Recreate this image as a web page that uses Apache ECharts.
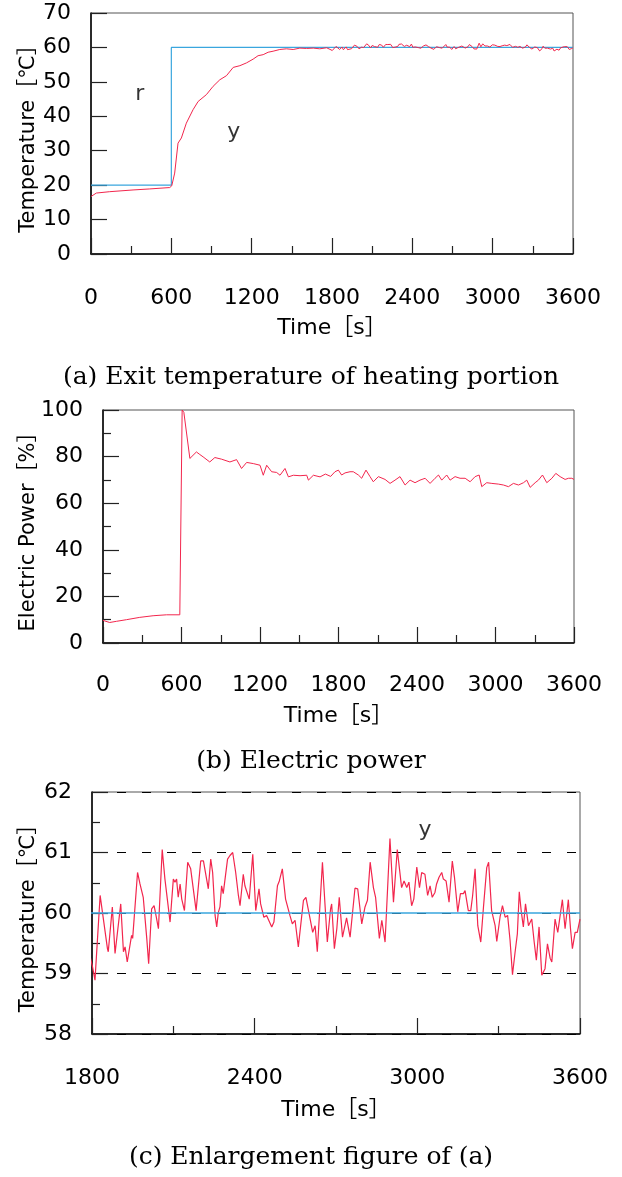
<!DOCTYPE html>
<html>
<head>
<meta charset="utf-8">
<script src="https://cdn.jsdelivr.net/npm/echarts@6/dist/echarts.min.js"></script>
<style>
  html, body { margin: 0; padding: 0; background: #fff; }
  #chart { width: 622px; height: 1177px; }
</style>
</head>
<body>
<div id="chart"></div>
<script>
// Set-point r [°C]
const refTime = [0, 600, 600, 3600];
const refValue = [20, 20, 60, 60];

// Exit temperature y [°C]
const tempTime = [
  0, 40, 140, 314, 439, 588, 603, 625, 650, 675, 712, 762, 800, 862, 912, 962,
  1012, 1062, 1112, 1161, 1211, 1248, 1286, 1323, 1360, 1410, 1460, 1510, 1560,
  1610, 1660, 1709, 1760,
  1802, 1811, 1830, 1836, 1857, 1860, 1875, 1885, 1906, 1916, 1922, 1930, 1946,
  1950, 1968, 1977, 1981, 1989, 1993, 2002, 2009, 2020, 2029, 2036, 2045, 2059,
  2069, 2075, 2088, 2100, 2106, 2112, 2118, 2125, 2131, 2141, 2153, 2164, 2170,
  2184, 2188, 2201, 2211, 2217, 2229, 2238, 2245, 2254, 2260, 2266, 2272, 2278,
  2284, 2291, 2300, 2309, 2319, 2330, 2340, 2346, 2358, 2364, 2370, 2380, 2393,
  2404, 2416, 2422, 2434, 2444, 2463, 2471, 2484, 2491, 2502, 2514, 2521, 2530,
  2539, 2549, 2561, 2565, 2580, 2589, 2602, 2614, 2623, 2631, 2650, 2660, 2668,
  2680, 2684, 2694, 2703, 2712, 2724, 2730, 2739, 2752, 2770, 2780, 2795, 2807,
  2816, 2826, 2838, 2846, 2860, 2869, 2881, 2899, 2912, 2918, 2926, 2931, 2942,
  2951, 2961, 2969, 2979, 2987, 2998, 3008, 3016, 3028, 3038, 3047, 3055, 3065,
  3071, 3080, 3090, 3096, 3106, 3117, 3129, 3137, 3149, 3159, 3170, 3176, 3188,
  3197, 3204, 3213, 3223, 3234, 3244, 3256, 3263, 3274, 3287, 3293, 3305, 3314,
  3324, 3333, 3342, 3351, 3360, 3369, 3376, 3383, 3391, 3399, 3410, 3422, 3431,
  3439, 3449, 3459, 3465, 3471, 3480, 3490, 3496, 3508, 3518, 3535, 3545, 3557,
  3565, 3572, 3582, 3590, 3600
];
const tempValue = [
  16.7, 17.7, 18.1, 18.6, 18.9, 19.3, 19.8, 23.5, 32.2, 33.7, 38.0, 41.9, 44.3,
  46.3, 48.7, 50.6, 51.8, 54.2, 54.7, 55.5, 56.6, 57.6, 57.9, 58.6, 58.9, 59.4,
  59.6, 59.4, 59.8, 59.7, 59.8, 59.6, 59.9,
  59.11, 58.89, 60.29, 60.32, 59.41, 59.36, 60.10, 59.33, 60.15, 59.36, 59.44,
  59.19, 59.63, 59.58, 60.67, 60.48, 60.45, 60.26, 60.26, 59.58, 59.16, 60.07,
  60.12, 59.96, 59.74, 61.05, 60.56, 60.59, 59.85, 60.56, 60.51, 60.56, 60.26,
  60.48, 60.23, 60.04, 60.84, 60.73, 60.70, 60.04, 60.07, 60.86, 60.86, 60.84,
  60.40, 60.89, 60.67, 59.96, 59.77, 60.01, 60.10, 60.45, 60.32, 60.29, 60.89,
  60.95, 61.00, 60.67, 60.29, 60.12, 60.64, 60.45, 60.45, 60.23, 60.97, 60.04,
  60.40, 60.15, 59.93, 59.96, 59.77, 59.85, 60.45, 60.53, 60.73, 60.23, 60.23,
  59.96, 59.82, 59.88, 59.44, 59.41, 60.21, 60.26, 59.96, 59.68, 59.79, 59.36,
  60.84, 60.10, 59.52, 60.07, 60.15, 59.41, 59.74, 60.26, 59.60, 59.60, 59.92,
  59.60, 60.41, 60.40, 59.82, 60.10, 60.21, 60.84, 60.42, 60.26, 59.58, 59.88,
  59.52, 61.23, 60.18, 60.18, 61.05, 61.08, 60.42, 60.53, 60.42, 60.51, 60.12,
  60.23, 60.76, 60.42, 60.67, 60.64, 60.29, 60.45, 60.26, 60.34, 60.48, 60.59,
  60.67, 60.56, 60.53, 60.18, 60.86, 60.59, 60.02, 60.32, 60.32, 60.37, 60.04,
  60.04, 60.29, 60.73, 59.79, 59.52, 60.10, 60.75, 60.84, 60.04, 59.79, 59.53,
  59.93, 60.12, 59.93, 59.96, 59.55, 58.98, 59.33, 59.66, 60.35, 60.04, 59.77,
  60.15, 59.79, 59.90, 59.52, 59.22, 59.77, 58.97, 58.95, 59.08, 59.49, 59.25,
  59.19, 59.90, 59.68, 60.22, 59.74, 60.22, 59.74, 59.41, 59.68, 59.68, 59.90
];

// Electric power [%]
const powerTime = [
  0, 51, 102, 179, 281, 383, 485, 587, 600, 605, 618, 664, 676, 714, 740, 765,
  816, 855, 906, 970, 1021, 1059, 1098, 1149, 1200, 1225, 1251, 1289, 1327, 1353,
  1391, 1417, 1455, 1506, 1557, 1570, 1608, 1659, 1700, 1740,
  1773, 1799, 1824, 1850, 1888, 1913, 1952, 1977, 2010, 2041, 2066, 2105, 2156,
  2194, 2232, 2270, 2309, 2347, 2385, 2423, 2462, 2500, 2538, 2564, 2589, 2627,
  2653, 2691, 2729, 2768, 2806, 2844, 2875, 2895, 2933, 2972, 3022, 3061, 3099,
  3137, 3176, 3214, 3239, 3265, 3303, 3328, 3359, 3392, 3431, 3461, 3494, 3532,
  3558, 3583, 3600
];
const powerValue = [
  9.7, 8.8, 9.3, 10.0, 11.0, 11.7, 12.1, 12.1, 12.1, 100, 99, 79.2, 79.9, 82.0,
  80.9, 79.9, 77.7, 79.6, 78.9, 77.7, 78.7, 74.9, 77.5, 77.0, 76.3, 72.0, 76.3,
  73.5, 73.2, 72.0, 74.9, 71.3, 72.0, 71.8, 72.0, 69.9, 72.0, 71.3, 72.5, 71.5,
  73.5, 74.2, 72.1, 73.0, 73.5, 73.5, 72.1, 70.7, 74.2, 71.4, 69.2, 71.4, 70.2,
  68.5, 69.9, 71.4, 67.8, 69.9, 68.8, 69.9, 70.7, 68.5, 70.7, 72.1, 69.9, 72.1,
  69.9, 71.4, 70.7, 70.7, 69.2, 71.4, 72.1, 67.1, 68.8, 68.5, 68.2, 67.8, 67.1,
  68.5, 67.8, 68.8, 69.9, 66.8, 68.8, 69.9, 72.1, 68.8, 70.7, 72.8, 71.4, 70.2,
  70.7, 70.7, 70.2
];

// Curve labels: [time, value, text]
const labelsA = [[364, 46.5, 'r'], [1066, 35.4, 'y']];
const labelsC = [[3028, 61.37, 'y']];

const captions = [
  '(a) Exit temperature of heating portion',
  '(b) Electric power',
  '(c) Enlargement figure of (a)'
];

const pairs = (xs, ys) => xs.map((x, i) => [x, ys[i]]);

const SANS = '"DejaVu Sans", "Noto Sans CJK JP", sans-serif';
const SERIF = '"DejaVu Serif", serif';
const RED = '#f2264d';
const BLUE = '#3aa6de';
const plain = v => String(v);

function xAxisFor(grid, min, max, gap, labelMargin) {
  return {
    type: 'value', gridIndex: grid, min: min, max: max, interval: 600,
    name: 'Time［s］', nameLocation: 'middle', nameGap: gap, nameMoveOverlap: false,
    nameTextStyle: { fontSize: 22, fontFamily: SANS, color: '#000' },
    axisLine: { lineStyle: { color: '#000', width: 1.5 } },
    axisTick: { inside: true, length: 16, lineStyle: { color: '#222', width: 1.2 } },
    minorTick: { show: true, splitNumber: 2, length: 8, lineStyle: { color: '#222', width: 1.2 } },
    axisLabel: { fontSize: 22, fontFamily: SANS, color: '#000', margin: labelMargin, formatter: plain },
    splitLine: { show: false }
  };
}

function yAxisFor(grid, min, max, interval, name, gap, minor, dashed) {
  return {
    type: 'value', gridIndex: grid, min: min, max: max, interval: interval,
    name: name, nameLocation: 'middle', nameGap: gap, nameMoveOverlap: false,
    nameTextStyle: { fontSize: 21, fontFamily: SANS, color: '#000' },
    axisLine: { lineStyle: { color: '#000', width: 1.5 } },
    axisTick: { inside: true, length: 16, lineStyle: { color: '#222', width: 1.2 } },
    minorTick: { show: minor, splitNumber: 2, length: 8, lineStyle: { color: '#222', width: 1.2 } },
    axisLabel: { fontSize: 22, fontFamily: SANS, color: '#000', margin: 20, formatter: plain },
    splitLine: dashed
      ? { show: true, lineStyle: { color: '#000', width: 1, type: [9, 16] } }
      : { show: false }
  };
}

function labelSeries(xi, yi, items) {
  return {
    type: 'scatter', xAxisIndex: xi, yAxisIndex: yi, symbolSize: 0, z: 5,
    silent: true,
    data: items.map(d => ({ value: [d[0], d[1]], name: d[2] })),
    label: {
      show: true, position: 'inside', formatter: p => p.name,
      fontSize: 22, fontFamily: SANS, color: '#000'
    }
  };
}

const frame = { show: true, borderColor: '#555', borderWidth: 1, backgroundColor: 'transparent' };

const option = {
  animation: false,
  backgroundColor: '#fff',
  grid: [
    Object.assign({ left: 91, top: 13, width: 482, height: 241 }, frame),
    Object.assign({ left: 103, top: 410, width: 471, height: 233 }, frame),
    Object.assign({ left: 92, top: 792, width: 488, height: 242 }, frame)
  ],
  xAxis: [
    xAxisFor(0, 0, 3600, 63, 33),
    xAxisFor(1, 0, 3600, 62, 31),
    xAxisFor(2, 1800, 3600, 65, 33)
  ],
  yAxis: [
    yAxisFor(0, 0, 70, 10, 'Temperature［℃］', 52, false, false),
    yAxisFor(1, 0, 100, 20, 'Electric Power［%］', 64, true, false),
    yAxisFor(2, 58, 62, 1, 'Temperature［℃］', 53, true, true)
  ],
  series: [
    {
      type: 'line', xAxisIndex: 0, yAxisIndex: 0, data: pairs(refTime, refValue),
      showSymbol: false, lineStyle: { color: BLUE, width: 1.2 }, z: 2
    },
    {
      type: 'line', xAxisIndex: 0, yAxisIndex: 0, data: pairs(tempTime, tempValue),
      showSymbol: false, lineStyle: { color: RED, width: 1 }, z: 3
    },
    {
      type: 'line', xAxisIndex: 1, yAxisIndex: 1, data: pairs(powerTime, powerValue),
      showSymbol: false, lineStyle: { color: RED, width: 1 }, z: 3
    },
    {
      type: 'line', xAxisIndex: 2, yAxisIndex: 2, data: pairs(tempTime, tempValue),
      showSymbol: false, lineStyle: { color: RED, width: 1.2 }, z: 2
    },
    {
      type: 'line', xAxisIndex: 2, yAxisIndex: 2, data: pairs(refTime, refValue),
      showSymbol: false, lineStyle: { color: BLUE, width: 1.5 }, z: 3
    },
    labelSeries(0, 0, labelsA),
    labelSeries(2, 2, labelsC)
  ],
  graphic: [
    { type: 'text', left: 'center', top: 365, style: { text: captions[0], font: '25px ' + SERIF, fill: '#000' } },
    { type: 'text', left: 'center', top: 749, style: { text: captions[1], font: '25px ' + SERIF, fill: '#000' } },
    { type: 'text', left: 'center', top: 1145, style: { text: captions[2], font: '25px ' + SERIF, fill: '#000' } }
  ]
};

const chart = echarts.init(document.getElementById('chart'), null, { renderer: 'canvas' });
chart.setOption(option);
</script>
</body>
</html>
